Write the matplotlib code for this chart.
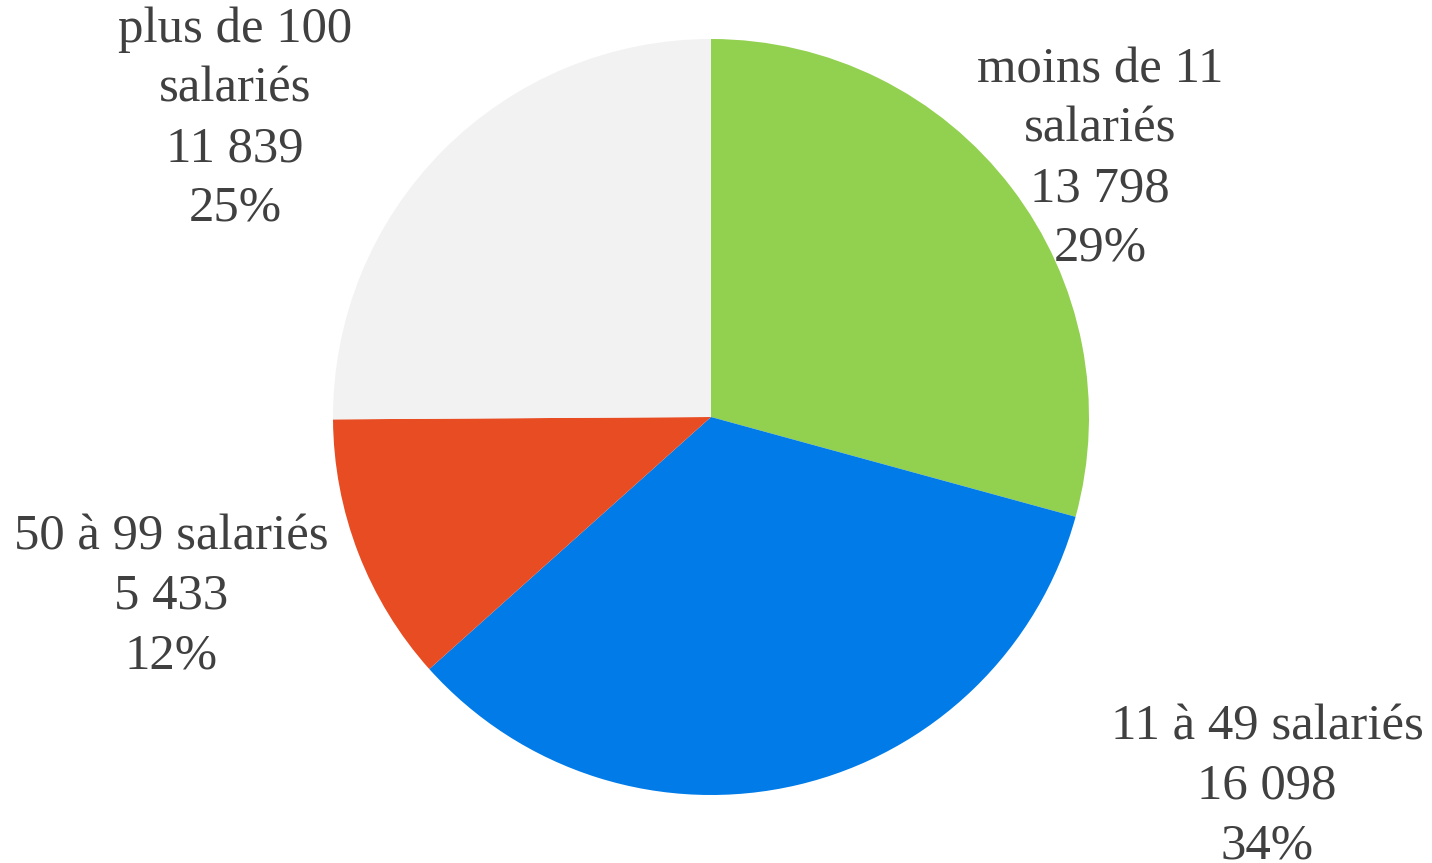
import matplotlib
matplotlib.use("Agg")
import matplotlib.pyplot as plt

categories = ["moins de 11\nsalariés", "11 à 49 salariés", "50 à 99 salariés", "plus de 100\nsalariés"]
values = [13798, 16098, 5433, 11839]
colors = ["#92D050", "#007BE8", "#E84C22", "#F2F2F2"]

W, H = 1432, 863
fig = plt.figure(figsize=(W / 100, H / 100), dpi=100)
fig.patch.set_facecolor("white")

# pie axes: center (711, 417), radius 378 px
cx, cy, r = 711, 417, 378
ax = fig.add_axes([(cx - r) / W, (H - (cy + r)) / H, 2 * r / W, 2 * r / H])
ax.pie(values, colors=colors, startangle=90, counterclock=False, radius=1,
       wedgeprops=dict(linewidth=0))
ax.set_xlim(-1, 1)
ax.set_ylim(-1, 1)
ax.set_aspect("equal")
ax.axis("off")

total = sum(values)
# label anchor: center x, y of first line (pixels)
label_pos = [(1100, 70), (1267, 727), (171, 537), (235, 30)]
line_step = 59.5
for cat, v, (lx, ly) in zip(categories, values, label_pos):
    lines = cat.split("\n") + [f"{v:,}".replace(",", " "), f"{round(100 * v / total)}%"]
    for i, t in enumerate(lines):
        y = ly + i * line_step
        fig.text(lx / W, 1 - y / H, t, ha="center", va="center",
                 fontsize=36.5, color="#404040", family="Liberation Serif")

fig.savefig("out.png", dpi=100, facecolor="white")
